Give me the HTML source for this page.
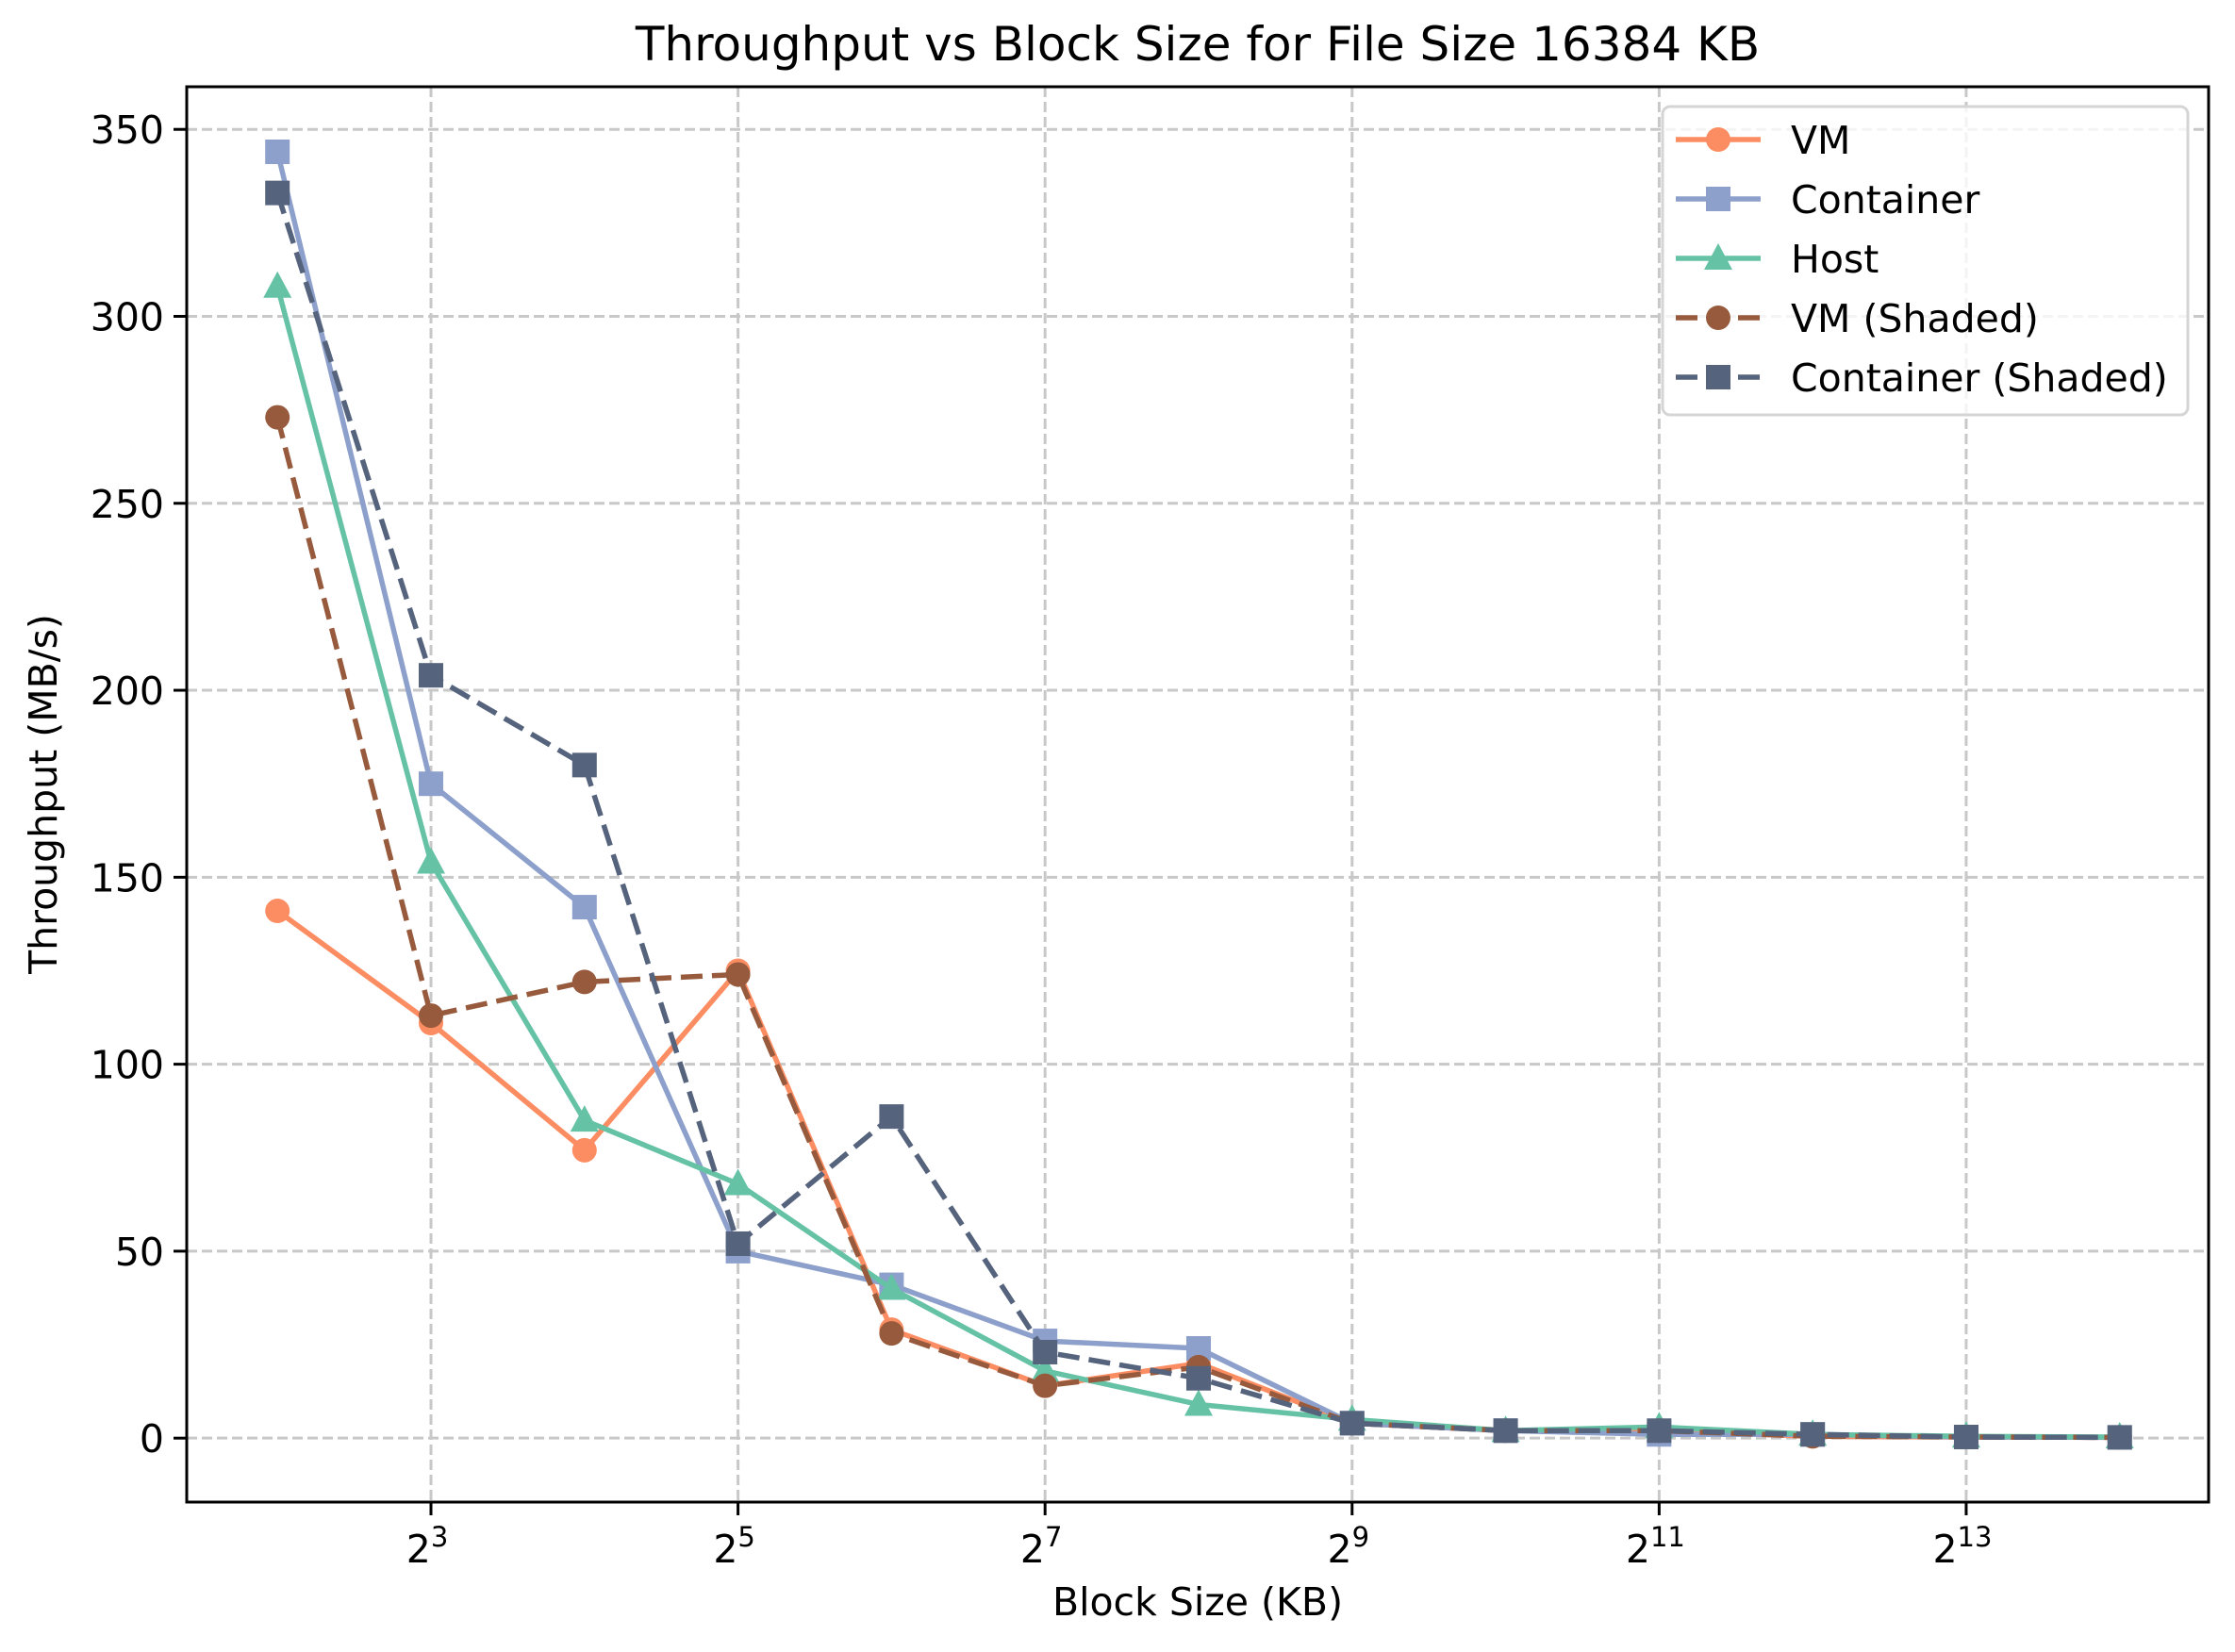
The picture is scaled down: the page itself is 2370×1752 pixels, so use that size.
<!DOCTYPE html>
<html><head><meta charset="utf-8">
<style>html,body{margin:0;padding:0;background:#fff;}svg{display:block;font-family:"DejaVu Sans","Liberation Sans",sans-serif;}</style>
</head><body>
<svg id="chart" width="2370" height="1752" viewBox="0 0 2370 1752" xmlns="http://www.w3.org/2000/svg">
<rect width="2370" height="1752" fill="#fff"/>
<g id="grid"></g>
<g id="series"></g>
<rect x="198" y="92" width="2144" height="1501" fill="none" stroke="#000" stroke-width="3"/>
<g id="ticks"></g>
<text x="1270" y="64" font-size="50" text-anchor="middle">Throughput vs Block Size for File Size 16384 KB</text>
<text x="1270" y="1713" font-size="41" text-anchor="middle">Block Size (KB)</text>
<text x="0" y="0" font-size="41" text-anchor="middle" transform="translate(60,842) rotate(-90)">Throughput (MB/s)</text>
<g id="legend"></g>
</svg>
<script>
const blockExps = [2,3,4,5,6,7,8,9,10,11,12,13,14];
const vmVals = [141,111,77,125,29,14,20,4,2,2,0.5,0.3,0.2];
const containerVals = [344,175,142,50,41,26,24,4,2,1,1,0.3,0.2];
const hostVals = [308,154,85,68,40,18,9,5,2,3,1,0.5,0.3];
const vmShadedVals = [273,113,122,124,28,14,19,4,2,2,0.5,0.3,0.2];
const containerShadedVals = [333,204,180,52,86,23,16,4,2,2,1,0.3,0.2];
const yTicks = [0,50,100,150,200,250,300,350];
const xTickExps = [3,5,7,9,11,13];

const NS = "http://www.w3.org/2000/svg";
const X0 = 198, X1 = 2342, Y0 = 92, Y1 = 1593;
const xMin = 1.409, xMax = 14.579, yMin = -17.1, yMax = 361.4;
const xs = e => X0 + (e - xMin) / (xMax - xMin) * (X1 - X0);
const ys = v => Y1 - (v - yMin) / (yMax - yMin) * (Y1 - Y0);
function mk(tag, attrs, parent) { const el = document.createElementNS(NS, tag); for (const k in attrs) el.setAttribute(k, attrs[k]); parent.appendChild(el); return el; }

const grid = document.getElementById('grid');
const ticks = document.getElementById('ticks');
yTicks.forEach(v => {
  const y = ys(v);
  const g = mk('line', {x1:X0, x2:X1, y1:y, y2:y, stroke:'#c8c8c8', 'stroke-width':3, 'stroke-dasharray':'11,5'}, grid);
  
  
  const t = mk('line', {x1:X0-14, x2:X0, y1:y, y2:y, stroke:'#000', 'stroke-width':3}, ticks);
  
  
  const l = mk('text', {x:X0-24, y:y+15, 'font-size':41, 'text-anchor':'end'}, ticks);
  l.textContent = v;
  
  
});
xTickExps.forEach(e => {
  const x = xs(e);
  const g = mk('line', {x1:x, x2:x, y1:Y0, y2:Y1, stroke:'#c8c8c8', 'stroke-width':3, 'stroke-dasharray':'11,5'}, grid);
  
  
  const t = mk('line', {x1:x, x2:x, y1:Y1, y2:Y1+14, stroke:'#000', 'stroke-width':3}, ticks);
  
  
  const l = mk('text', {x:x-4, y:Y1+64, 'font-size':41, 'text-anchor':'middle'}, ticks);
  
  
  const b = mk('tspan', {}, l); b.textContent = '2';
  const s = mk('tspan', {dy:-17, 'font-size':29}, l); s.textContent = e;
});

const seriesDefs = [
  {name:'VM', vals:vmVals, color:'#fc8d62', dash:null, marker:'circle'},
  {name:'Container', vals:containerVals, color:'#8da0cb', dash:null, marker:'square'},
  {name:'Host', vals:hostVals, color:'#66c2a5', dash:null, marker:'triangle'},
  {name:'VM (Shaded)', vals:vmShadedVals, color:'#975a3d', dash:'23,10', marker:'circle'},
  {name:'Container (Shaded)', vals:containerShadedVals, color:'#56637d', dash:'23,10', marker:'square'}
];
function marker(type, x, y, color, parent) {
  let m;
  if (type === 'circle') m = mk('circle', {cx:x, cy:y, r:13, fill:color}, parent);
  else if (type === 'square') m = mk('rect', {x:x-13, y:y-13, width:26, height:26, fill:color}, parent);
  else m = mk('polygon', {points:`${x},${y-16} ${x-15},${y+12} ${x+15},${y+12}`, fill:color}, parent);
  return m;
}
const sg = document.getElementById('series');
seriesDefs.forEach(s => {
  const g = mk('g', {}, sg);
  
  
  const pts = s.vals.map((v, i) => xs(blockExps[i]) + ',' + ys(v)).join(' ');
  const pl = mk('polyline', {points:pts, fill:'none', stroke:s.color, 'stroke-width':5.5, 'stroke-linejoin':'round'}, g);
  if (s.dash) pl.setAttribute('stroke-dasharray', s.dash);
  
  
  s.vals.forEach((v, i) => {
    const m = marker(s.marker, xs(blockExps[i]), ys(v), s.color, g);
    
    
  });
});

const lg = document.getElementById('legend');
const box = mk('rect', {x:1763, y:113, width:557, height:327, rx:8, fill:'#fff', 'fill-opacity':0.8, stroke:'#d5d5d5', 'stroke-width':3}, lg);


seriesDefs.forEach((s, i) => {
  const y = 148 + i * 63;
  const e = mk('g', {}, lg);
  
  
  const ln = mk('line', {x1:1777, x2:1867, y1:y, y2:y, stroke:s.color, 'stroke-width':5.5}, e);
  if (s.dash) ln.setAttribute('stroke-dasharray', '23,10');
  marker(s.marker, 1822, y, s.color, e);
  const t = mk('text', {x:1899, y:y+15, 'font-size':41}, e);
  t.textContent = s.name;
});
</script>
</body></html>
